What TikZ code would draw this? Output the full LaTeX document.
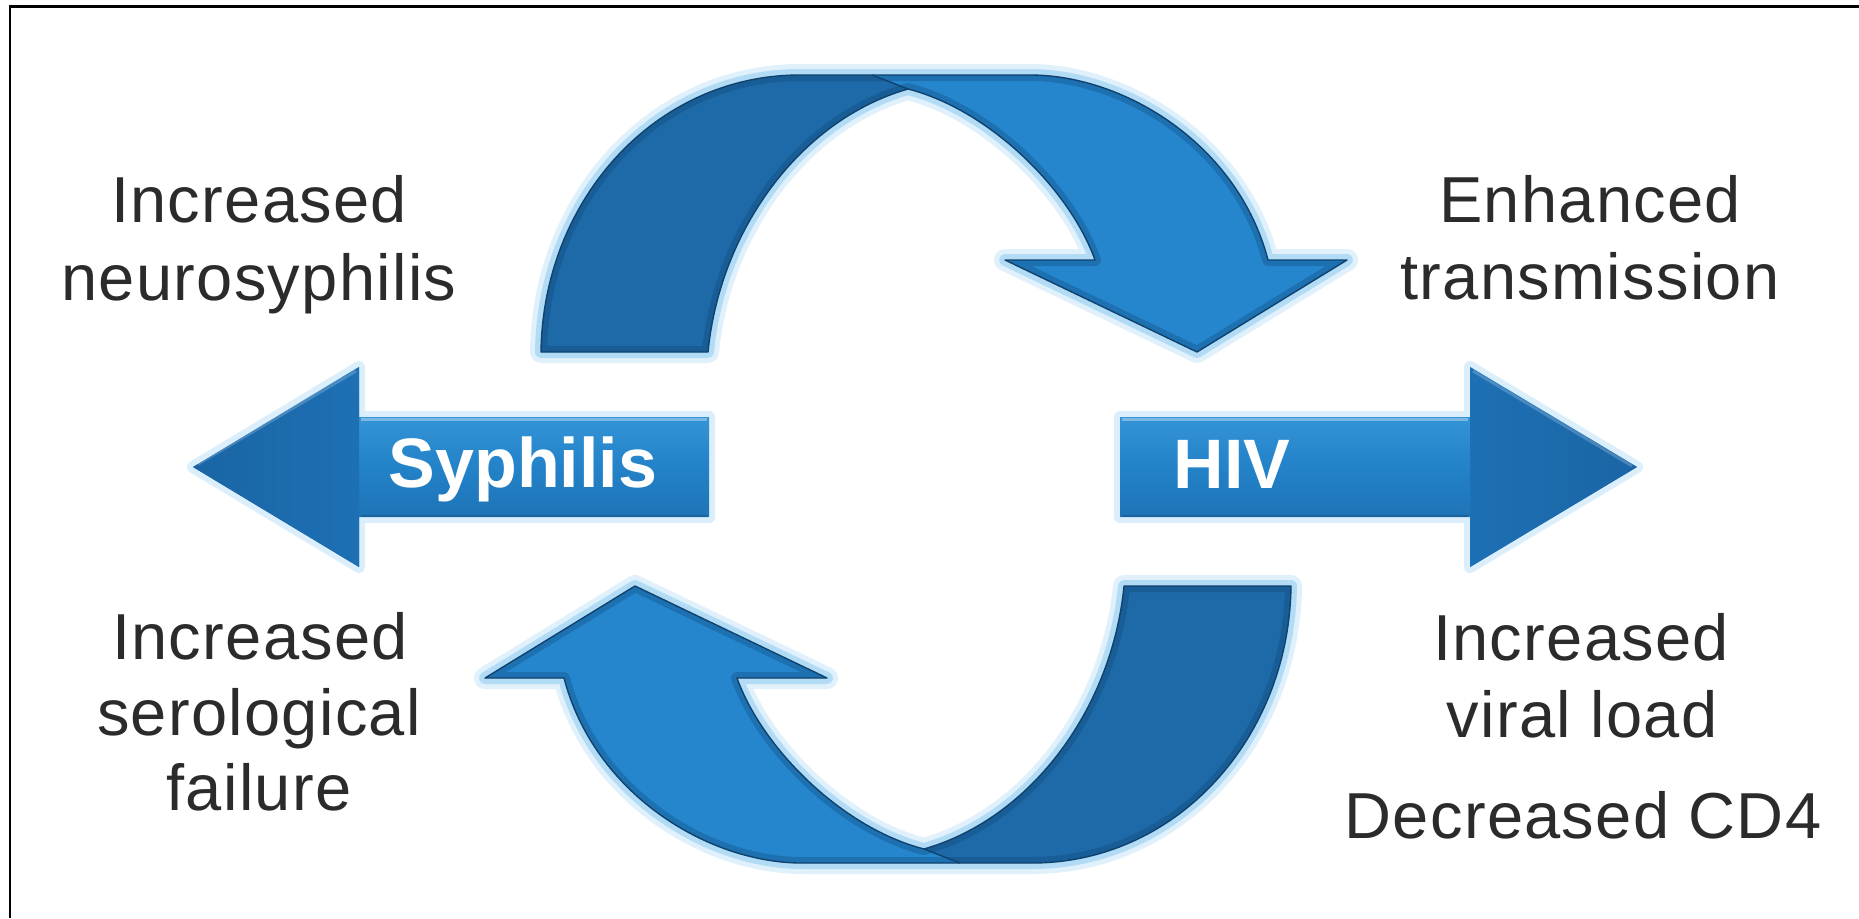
\documentclass[tikz,border=0pt]{standalone}
\usepackage{fontspec}
\setmainfont{Liberation Sans}
\newfontfamily\lblfont[LetterSpace=2]{Liberation Sans}
\definecolor{txt}{HTML}{2B2B2B}
\definecolor{arrdark}{HTML}{1E69A8}
\definecolor{arrlight}{HTML}{2586CE}
\definecolor{edgec}{HTML}{0F426E}
\definecolor{glowc}{HTML}{86C9F2}
\definecolor{hlight}{HTML}{45A6E4}
\definecolor{hmid}{HTML}{2382C8}
\definecolor{hdark}{HTML}{1A65A5}
\definecolor{headc}{HTML}{1D70B4}
\tikzset{
  lbl/.style={font=\lblfont\fontsize{65}{78}\selectfont, text=txt, anchor=base, inner sep=0pt},
  big/.style={font=\fontsize{70}{84}\selectfont\bfseries, text=white, anchor=base, inner sep=0pt},
  glowA/.style={draw=glowc, line width=22pt, opacity=0.25, line join=round},
  glowB/.style={draw=glowc, line width=12pt, opacity=0.5, line join=round},
  edgeline/.style={draw=edgec, line width=1.4pt, line join=round},
  innershade/.style={draw=edgec, line width=12pt, opacity=0.30, line join=round},
}
\newcommand\curvfull{(541,352) .. controls (543,200) and (655,75) .. (800,75) -- (1030,75) .. controls (1125,75) and (1238,145) .. (1268,260) -- (1347,260) -- (1197,352) -- (1005,260) -- (1095,260) .. controls (1070,190) and (990,110) .. (908,89) .. controls (800,120) and (720,230) .. (708,352) -- cycle}
\newcommand\curvleft{(541,352) .. controls (543,200) and (655,75) .. (800,75) -- (872,75) -- (908,89) .. controls (800,120) and (720,230) .. (708,352) -- cycle}
\newcommand\curvright{(872,75) -- (1030,75) .. controls (1125,75) and (1238,145) .. (1268,260) -- (1347,260) -- (1197,352) -- (1005,260) -- (1095,260) .. controls (1070,190) and (990,110) .. (908,89) -- cycle}
\newcommand\larrow{(193,467) -- (359,367) -- (359,417) -- (709,417) -- (709,517) -- (359,517) -- (359,567) -- cycle}
\newcommand\rarrow{(1120,417) -- (1470,417) -- (1470,367) -- (1637,467) -- (1470,567) -- (1470,517) -- (1120,517) -- cycle}
\newcommand\curvpiece{%
  \draw[glowA] \curvfull;
  \draw[glowB] \curvfull;
  \fill[arrdark] \curvleft;
  \fill[arrlight] \curvright;
  \begin{scope}
    \clip \curvfull;
    \draw[innershade] \curvfull;
  \end{scope}
  \draw[edgeline] (872,75) -- (908,89);
  \draw[edgeline] \curvfull;
}
\begin{document}
\begin{tikzpicture}[x=1pt,y=-1pt]
\useasboundingbox (0,0) rectangle (1859,918);
\fill[white] (0,0) rectangle (1859,918);
\draw[line width=2.2pt] (10,918) -- (10,6.5) -- (1859,6.5);

% curved arrows
\curvpiece
\begin{scope}[rotate around={180:(916,469)}]
\curvpiece
\end{scope}

% horizontal arrows
\draw[glowB, opacity=0.3] \larrow;
\shade[top color=hlight, bottom color=hdark, middle color=hmid] \larrow;
\shade[left color=hdark, right color=headc] (193,467) -- (359,367) -- (359,567) -- cycle;
\draw[white, opacity=0.35, line width=3pt] (361,419) -- (707,419);
\draw[white, opacity=0.2, line width=3pt] (198,464) -- (356,371);
\draw[edgec, opacity=0.35, line width=2pt] (361,516) -- (707,516);

\draw[glowB, opacity=0.3] \rarrow;
\shade[top color=hlight, bottom color=hdark, middle color=hmid] \rarrow;
\shade[left color=headc, right color=hdark] (1470,367) -- (1637,467) -- (1470,567) -- cycle;
\draw[white, opacity=0.35, line width=3pt] (1122,419) -- (1468,419);
\draw[white, opacity=0.2, line width=3pt] (1473,371) -- (1632,466);
\draw[edgec, opacity=0.35, line width=2pt] (1122,516) -- (1468,516);

\node[big] (syph) at (523,487) {Syphilis};
\node[big] (hiv) at (1232,488) {HIV};

\node[lbl] (tl1) at (259,222) {Increased};
\node[lbl] (tl2) at (259,300) {neurosyphilis};
\node[lbl] (tr1) at (1590,222) {Enhanced};
\node[lbl] (tr2) at (1590,299) {transmission};
\node[lbl] (bl1) at (260,659) {Increased};
\node[lbl] (bl2) at (259,735) {serological};
\node[lbl] (bl3) at (259,810) {failure};
\node[lbl] (br1) at (1581,660) {Increased};
\node[lbl] (br2) at (1582,737) {viral load};
\node[lbl] (br3) at (1583,838) {Decreased CD4};
\end{tikzpicture}
\end{document}
